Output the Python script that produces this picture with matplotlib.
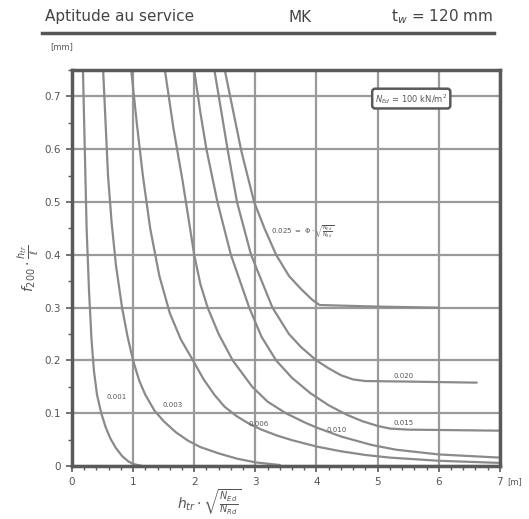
import matplotlib
matplotlib.use("Agg")
import matplotlib.pyplot as plt
from matplotlib.ticker import MultipleLocator

# ---- data ----
curve_labels = ["0.001", "0.003", "0.006", "0.010", "0.015", "0.020", "0.025"]

c001_x = [0.18, 0.21, 0.24, 0.28, 0.32, 0.36, 0.41, 0.48, 0.55, 0.63, 0.72, 0.82, 0.92, 1.00, 1.15]
c001_y = [0.75, 0.60, 0.45, 0.33, 0.24, 0.18, 0.135, 0.10, 0.074, 0.052, 0.034, 0.019, 0.009, 0.004, 0.0]

c003_x = [0.51, 0.55, 0.59, 0.65, 0.72, 0.82, 0.91, 1.00, 1.10, 1.20, 1.35, 1.50, 1.70, 1.90, 2.10, 2.40, 2.70, 3.00, 3.40]
c003_y = [0.75, 0.65, 0.55, 0.46, 0.38, 0.30, 0.245, 0.20, 0.162, 0.135, 0.105, 0.085, 0.064, 0.048, 0.036, 0.024, 0.014, 0.007, 0.002]

c006_x = [0.97, 1.06, 1.16, 1.28, 1.43, 1.60, 1.78, 1.98, 2.15, 2.33, 2.50, 2.70, 2.90, 3.10, 3.35, 3.60, 4.00, 4.40, 4.80, 5.20, 6.00, 7.00]
c006_y = [0.75, 0.65, 0.55, 0.45, 0.36, 0.29, 0.24, 0.20, 0.165, 0.135, 0.112, 0.094, 0.080, 0.069, 0.058, 0.049, 0.037, 0.028, 0.021, 0.016, 0.010, 0.006]

c010_x = [1.52, 1.66, 1.81, 1.905, 2.00, 2.10, 2.22, 2.40, 2.63, 2.95, 3.20, 3.50, 3.80, 4.00, 4.40, 4.90, 5.30, 6.00, 7.00]
c010_y = [0.75, 0.64, 0.54, 0.47, 0.40, 0.345, 0.30, 0.25, 0.20, 0.15, 0.122, 0.100, 0.083, 0.073, 0.056, 0.040, 0.031, 0.022, 0.016]

c015_x = [2.00, 2.10, 2.20, 2.38, 2.60, 2.90, 3.10, 3.34, 3.60, 3.90, 4.20, 4.50, 4.75, 5.00, 5.20, 5.50, 7.00]
c015_y = [0.75, 0.67, 0.60, 0.50, 0.40, 0.30, 0.245, 0.20, 0.167, 0.138, 0.115, 0.097, 0.085, 0.076, 0.071, 0.069, 0.067]

c020_x = [2.33, 2.55, 2.70, 2.93, 3.28, 3.55, 3.75, 4.00, 4.20, 4.40, 4.60, 4.80, 5.50, 6.62]
c020_y = [0.75, 0.597, 0.50, 0.40, 0.30, 0.25, 0.225, 0.20, 0.185, 0.172, 0.164, 0.161, 0.160, 0.158]

c025_x = [2.50, 2.77, 2.98, 3.15, 3.34, 3.55, 3.75, 3.93, 4.05, 5.00, 6.00]
c025_y = [0.75, 0.597, 0.50, 0.45, 0.40, 0.36, 0.335, 0.315, 0.305, 0.302, 0.300]

curves_x = [c001_x, c003_x, c006_x, c010_x, c015_x, c020_x, c025_x]
curves_y = [c001_y, c003_y, c006_y, c010_y, c015_y, c020_y, c025_y]

label_x = [0.73, 1.65, 3.05, 4.33, 5.43, 5.43]
label_y = [0.130, 0.115, 0.080, 0.068, 0.081, 0.170]

x_ticks = [0, 1, 2, 3, 4, 5, 6, 7]
y_ticks = [0, 0.1, 0.2, 0.3, 0.4, 0.5, 0.6, 0.7]
y_tick_labels = ["0", "0.1", "0.2", "0.3", "0.4", "0.5", "0.6", "0.7"]

# ---- figure ----
fig = plt.figure(figsize=(5.29, 5.19), dpi=100)
ax = fig.add_axes([0.136, 0.102, 0.809, 0.763])

curve_color = "#8a8a8a"
grid_color = "#9a9a9a"
frame_color = "#5a5a5a"
text_color = "#555555"

ax.set_xlim(0, 7)
ax.set_ylim(0, 0.75)
ax.set_xticks(x_ticks)
ax.set_yticks(y_ticks)
ax.set_yticklabels(y_tick_labels)
ax.xaxis.set_minor_locator(MultipleLocator(0.2))
ax.yaxis.set_minor_locator(MultipleLocator(0.05))
ax.grid(True, which="major", color=grid_color, linewidth=1.6)
ax.set_axisbelow(True)
for s in ax.spines.values():
    s.set_color(frame_color)
    s.set_linewidth(2.5)
ax.tick_params(which="major", length=4, width=1.2, color=frame_color,
               labelsize=7.5, labelcolor=text_color, pad=4)
ax.tick_params(which="minor", length=3, width=1.0, color=frame_color)

for xs, ys in zip(curves_x, curves_y):
    ax.plot(xs, ys, color=curve_color, linewidth=1.6, solid_capstyle="round",
            solid_joinstyle="round")

for lab, lx, ly in zip(curve_labels[:6], label_x, label_y):
    ax.text(lx, ly, lab, fontsize=5, color=text_color, ha="center", va="center")

ax.text(3.26, 0.443, r"0.025 $=\ \Phi\cdot\sqrt{\frac{N_{Ed}}{N_{Rd}}}$",
        fontsize=5, color=text_color, ha="left", va="center")

ax.text(5.55, 0.696, r"$N_{Ed}$ = 100 kN/m$^2$", fontsize=6, color=text_color,
        ha="center", va="center",
        bbox=dict(boxstyle="round,pad=0.35", fc="white", ec=frame_color, lw=1.8))

ax.set_xlabel(r"$h_{tr}\cdot\sqrt{\frac{N_{Ed}}{N_{Rd}}}$", fontsize=10,
              color=text_color, labelpad=2)
ax.xaxis.set_label_coords(0.32, -0.055)
ax.set_ylabel(r"$f_{200}\cdot\frac{h_{tr}}{\ell}$", fontsize=10,
              color=text_color, labelpad=2)

fig.text(515 / 529, 1 - 482 / 519, "[m]", fontsize=6, color=text_color,
         ha="center", va="center")
fig.text(62 / 529, 1 - 47 / 519, "[mm]", fontsize=6, color=text_color,
         ha="center", va="center")

fig.text(45 / 529, 1 - 17 / 519, "Aptitude au service", fontsize=11,
         color="#444444", ha="left", va="center")
fig.text(300 / 529, 1 - 17 / 519, "MK", fontsize=11, color="#444444",
         ha="center", va="center")
fig.text(493 / 529, 1 - 17 / 519, r"t$_w$ = 120 mm", fontsize=11,
         color="#444444", ha="right", va="center")
fig.add_artist(plt.Line2D([42 / 529, 494 / 529], [1 - 33 / 519, 1 - 33 / 519],
                          color="#555555", linewidth=2.5, transform=fig.transFigure))

fig.savefig("out.png", dpi=100, facecolor="white")
